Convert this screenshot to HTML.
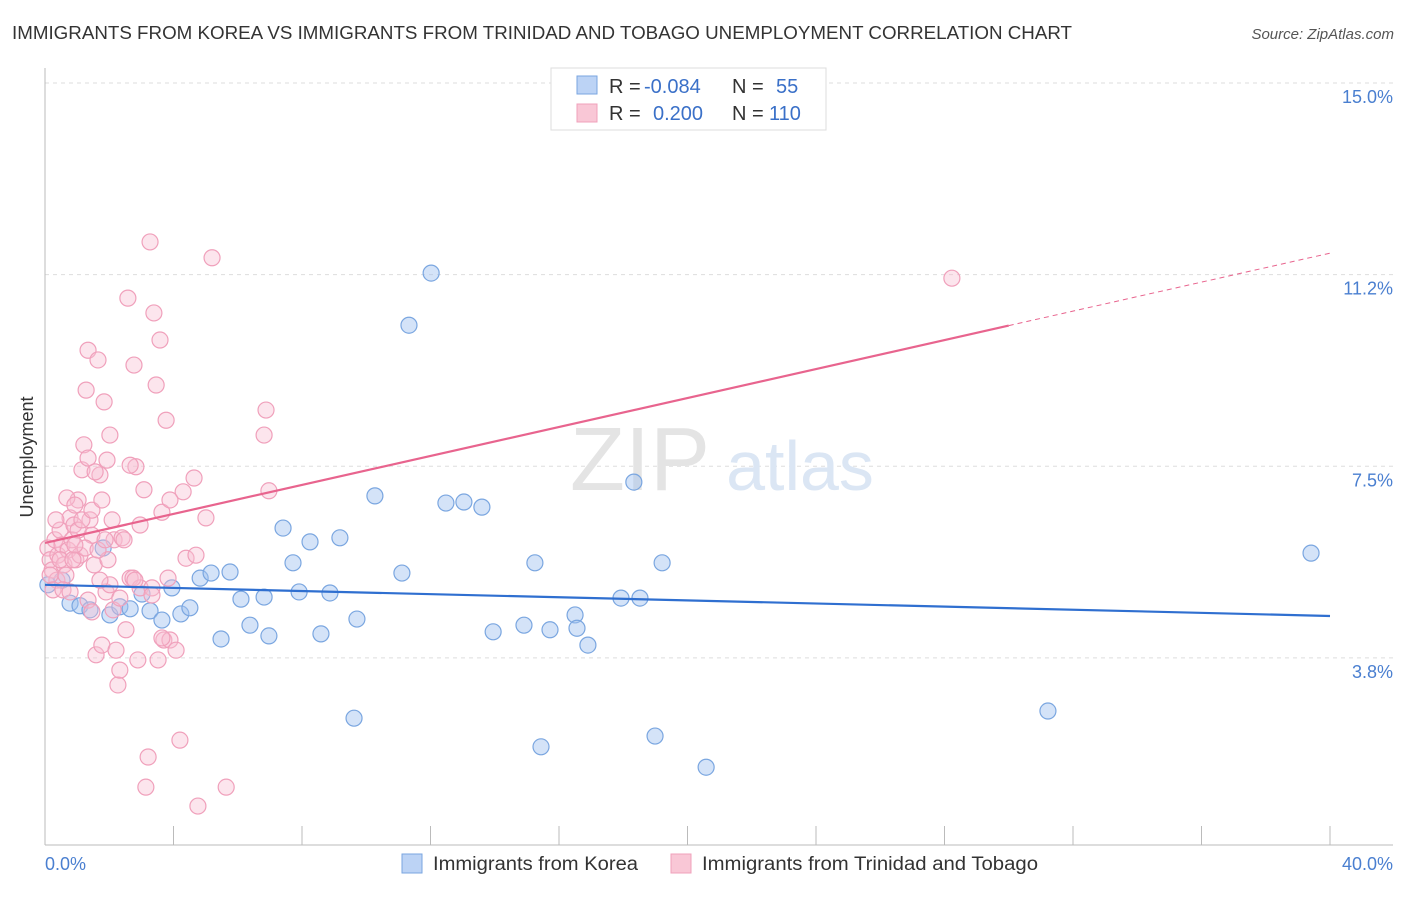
<!DOCTYPE html>
<html><head><meta charset="utf-8"><style>
body{margin:0;background:#fff;font-family:"Liberation Sans",sans-serif;}
svg text{font-family:"Liberation Sans",sans-serif;}
</style></head><body>
<svg width="1406" height="892" viewBox="0 0 1406 892">
<text x="12" y="39" font-size="18" fill="#333" textLength="1060" lengthAdjust="spacingAndGlyphs">IMMIGRANTS FROM KOREA VS IMMIGRANTS FROM TRINIDAD AND TOBAGO UNEMPLOYMENT CORRELATION CHART</text>
<text x="1394" y="39" font-size="15" fill="#555" font-style="italic" text-anchor="end">Source: ZipAtlas.com</text>
<g id="grid"></g>
<text x="640" y="490" font-size="90" fill="#e4e4e4" text-anchor="middle" font-family="Liberation Serif">ZIP</text>
<text x="800" y="490" font-size="70" fill="#dbe6f4" text-anchor="middle">atlas</text>
<g id="marks"></g>
<text x="33" y="457" font-size="18" fill="#333" text-anchor="middle" transform="rotate(-90 33 457)">Unemployment</text>
<text x="45" y="870" font-size="18" fill="#4a7fd0">0.0%</text>
<text x="1393" y="870" font-size="18" fill="#4a7fd0" text-anchor="end">40.0%</text>
<g>
<rect x="551" y="68" width="275" height="62" fill="#fff" stroke="#ddd"/>
<rect x="577" y="76" width="20" height="18" fill="#bcd3f5" stroke="#7aa6e0"/>
<rect x="577" y="104" width="20" height="18" fill="#f9c7d6" stroke="#f0a0bb"/>
<text x="609" y="93" font-size="20" fill="#333">R = <tspan x="644" fill="#3a70c8">-0.084</tspan><tspan x="732">N = </tspan><tspan x="776" fill="#3a70c8">55</tspan></text>
<text x="609" y="120" font-size="20" fill="#333">R = <tspan x="653" fill="#3a70c8">0.200</tspan><tspan x="732">N = </tspan><tspan x="769" fill="#3a70c8">110</tspan></text>
</g>
<g>
<rect x="402" y="854" width="20" height="19" fill="#bcd3f5" stroke="#7aa6e0"/>
<text x="433" y="870" font-size="19" fill="#333" textLength="205" lengthAdjust="spacingAndGlyphs">Immigrants from Korea</text>
<rect x="671" y="854" width="20" height="19" fill="#f9c7d6" stroke="#f0a0bb"/>
<text x="702" y="870" font-size="19" fill="#333" textLength="336" lengthAdjust="spacingAndGlyphs">Immigrants from Trinidad and Tobago</text>
</g>
</svg>
<script>
const yTicks=[15,11.25,7.5,3.75];
const yTickLabels=["15.0%","11.2%","7.5%","3.8%"];
const xTicks=[0,4,8,12,16,20,24,28,32,36,40];
const koreaX=[0.09,0.53,0.78,1.09,1.40,1.81,2.02,2.33,2.65,3.02,3.27,3.64,3.95,4.23,4.51,4.83,5.17,5.48,5.76,6.10,6.38,6.82,6.97,7.41,7.72,7.91,8.25,8.59,8.87,9.18,9.62,9.71,10.27,11.11,11.33,12.02,12.48,13.04,13.60,13.95,14.91,15.25,15.44,15.72,16.50,16.56,16.90,17.93,18.33,18.52,18.99,19.21,20.58,31.22,39.41];
const koreaY=[5.18,5.27,4.82,4.77,4.69,5.90,4.59,4.75,4.71,5.00,4.67,4.49,5.12,4.61,4.73,5.31,5.41,4.12,5.43,4.90,4.39,4.94,4.18,6.29,5.61,5.04,6.02,4.22,5.02,6.10,2.57,4.51,6.92,5.41,10.26,11.28,6.78,6.80,6.70,4.26,4.39,5.61,2.01,4.30,4.59,4.33,4.00,4.92,7.19,4.92,2.22,5.61,1.61,2.71,5.80];
const trinX=[0.09,0.16,0.22,0.31,0.37,0.40,0.47,0.53,0.59,0.65,0.72,0.78,0.84,0.90,0.96,1.03,1.09,1.15,1.21,1.28,1.34,1.40,1.46,1.53,1.59,1.65,1.71,1.77,1.84,1.90,1.96,2.02,2.09,2.15,2.21,2.27,2.33,2.40,2.52,2.58,2.65,2.77,2.83,2.89,2.96,3.08,3.14,3.21,3.27,3.33,3.39,3.46,3.52,3.58,3.64,3.70,3.77,3.83,3.89,4.08,4.20,4.30,4.39,4.64,4.70,4.76,5.01,5.20,5.64,6.82,6.88,6.97,28.23,0.16,0.25,0.34,0.47,0.56,0.68,0.78,0.87,0.93,1.03,1.15,1.25,1.34,1.46,1.56,1.65,1.77,1.87,1.93,2.02,2.12,2.33,2.46,2.65,2.74,2.80,2.96,3.33,3.64,3.89,1.71,1.34,1.46,0.93];
const trinY=[5.90,5.67,5.47,6.06,5.27,5.76,6.25,5.96,5.57,5.37,5.86,6.49,6.06,6.35,5.67,6.84,5.76,7.43,7.92,8.99,9.77,6.45,6.15,5.57,3.81,9.58,7.33,4.00,8.76,5.04,5.67,8.11,6.45,6.06,3.90,3.22,3.51,6.10,4.30,10.79,5.31,9.48,7.49,3.71,5.12,7.04,1.22,1.81,11.89,5.12,10.50,9.09,3.71,9.97,6.60,4.10,8.40,5.31,4.10,3.90,2.14,7.00,5.70,7.27,5.76,0.85,6.49,11.58,1.22,8.11,8.60,7.02,11.18,5.37,5.08,6.45,5.67,5.08,6.88,5.04,5.67,6.74,6.25,6.45,5.90,7.66,6.64,7.39,5.86,6.84,6.06,7.62,5.18,4.69,4.92,6.06,7.52,5.31,5.27,6.35,4.98,4.14,6.84,5.27,4.88,4.65,5.96];
const koreaTrend=[5.18,4.57];
const trinTrend=[6.0,11.67];
const trinSolidEnd=30;
const NS='http://www.w3.org/2000/svg';
const xs=v=>45+v*32.125, ys=v=>83+(15-v)*51.1;
function mk(t,a,p){const e=document.createElementNS(NS,t);for(const k in a)e.setAttribute(k,a[k]);p.appendChild(e);return e;}
const grid=document.getElementById('grid'), marks=document.getElementById('marks');
yTicks.forEach((v,i)=>{
 const l=mk('line',{x1:45,x2:1393,y1:ys(v),y2:ys(v),stroke:'#ddd','stroke-dasharray':'4,4'},grid);
 
 
 const t=mk('text',{x:1393,y:ys(v)+20,'font-size':18,fill:'#4a7fd0','text-anchor':'end'},grid);
 t.textContent=yTickLabels[i];
 
 
});
const ax=mk('line',{x1:45,x2:45,y1:68,y2:845,stroke:'#bbb'},grid);


const bx=mk('line',{x1:45,x2:1393,y1:845,y2:845,stroke:'#bbb'},grid);


xTicks.forEach(v=>{const t=mk('line',{x1:xs(v),x2:xs(v),y1:826,y2:845,stroke:'#bbb'},grid);
 
 });
koreaX.forEach((x,i)=>{const c=mk('circle',{cx:xs(x),cy:ys(koreaY[i]),r:8,fill:'rgba(160,192,240,0.45)',stroke:'#7aa6e0','stroke-width':1.2},marks);
 
 });
trinX.forEach((x,i)=>{const c=mk('circle',{cx:xs(x),cy:ys(trinY[i]),r:8,fill:'rgba(248,190,210,0.4)',stroke:'#f0a0bb','stroke-width':1.2},marks);
 
 });
const kt=mk('line',{x1:xs(0),y1:ys(koreaTrend[0]),x2:xs(40),y2:ys(koreaTrend[1]),stroke:'#2f6fd0','stroke-width':2.2},marks);


const ty=x=>trinTrend[0]+(trinTrend[1]-trinTrend[0])*x/40;
const tt=mk('line',{x1:xs(0),y1:ys(ty(0)),x2:xs(trinSolidEnd),y2:ys(ty(trinSolidEnd)),stroke:'#e8648e','stroke-width':2.2},marks);


const td=mk('line',{x1:xs(trinSolidEnd),y1:ys(ty(trinSolidEnd)),x2:xs(40),y2:ys(ty(40)),stroke:'#e8648e','stroke-width':1,'stroke-dasharray':'5,4'},marks);


</script>
</body></html>
